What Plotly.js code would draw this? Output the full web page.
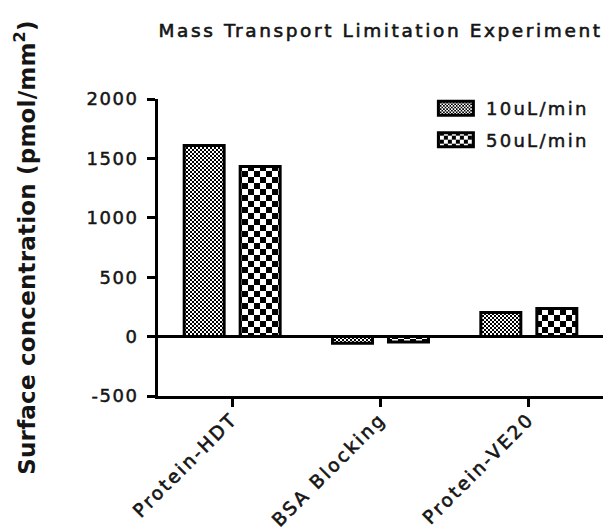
<!DOCTYPE html>
<html>
<head>
<meta charset="utf-8">
<script src="https://cdn.plot.ly/plotly-3.0.1.min.js"></script>
<style>
html,body{margin:0;padding:0;background:#fff;}
#chart{width:603px;height:532px;}
.gtitle{letter-spacing:2.6px;stroke:#151515;stroke-width:0.6px;}
.legendtext{letter-spacing:2.3px;stroke:#151515;stroke-width:0.5px;}
.ytick text{letter-spacing:1.5px;stroke:#151515;stroke-width:0.5px;}
.xtick text{letter-spacing:2.5px;stroke:#151515;stroke-width:0.6px;}
.ytitle{letter-spacing:0.2px;}
</style>
</head>
<body>
<div id="chart"></div>
<script>
const categories = ["Protein-HDT", "BSA Blocking", "Protein-VE20"];
const seriesNames = ["10uL/min", "50uL/min"];
const values10 = [1608, -55, 202];
const values50 = [1431, -45, 236];
const yTicks = [-500, 0, 500, 1000, 1500, 2000];

const font = "DejaVu Sans, sans-serif";
const ink = "#151515";

const traces = [
  {
    type: "bar", name: seriesNames[0], x: categories, y: values10, legendgroup: "a",
    marker: {color: "white", line: {color: "black", width: 3},
      pattern: {shape: ".", fgcolor: "black", bgcolor: "white", size: 4, solidity: 0.5, fillmode: "replace"}}
  },
  {
    type: "bar", name: seriesNames[1], x: categories, y: values50, legendgroup: "b",
    marker: {color: "white", line: {color: "black", width: 3},
      pattern: {shape: ".", fgcolor: "black", bgcolor: "white", size: 12, solidity: 0.5, fillmode: "replace"}}
  }
];

const layout = {
  width: 603, height: 532,
  margin: {l: 158, r: 0, t: 99, b: 136},
  paper_bgcolor: "white", plot_bgcolor: "white",
  font: {family: font, color: ink, size: 18},
  title: {text: "Mass Transport Limitation Experiment", font: {family: font, size: 18.5, color: ink},
          x: 0.5, xref: "paper", xanchor: "center", y: 1 - 31 / 532, yref: "container", yanchor: "middle"},
  barmode: "group", bargap: 0.245, bargroupgap: 0.286,
  showlegend: true,
  legend: {x: 0.602, y: 1.03, xanchor: "left", yanchor: "top", font: {family: font, size: 18, color: ink},
           itemwidth: 50, traceorder: "grouped", tracegroupgap: 5, bgcolor: "rgba(0,0,0,0)"},
  xaxis: {
    type: "category", range: [-0.5, 2.5], showline: true, linecolor: "black", linewidth: 3,
    ticks: "outside", ticklen: 8, tickwidth: 3, tickcolor: "black", tickangle: -45, ticklabelstandoff: -6,
    tickfont: {family: font, size: 18.5, color: ink}, showgrid: false, zeroline: false
  },
  yaxis: {
    range: [-500, 2000], tickvals: yTicks, ticktext: yTicks.map(String), showline: true, linecolor: "black", linewidth: 3,
    ticks: "outside", ticklen: 8, tickwidth: 3, tickcolor: "black", ticklabelstandoff: 5,
    tickfont: {family: font, size: 18, color: ink}, showgrid: false,
    zeroline: true, zerolinecolor: "black", zerolinewidth: 3,
    title: {text: "<b>Surface concentration (pmol/mm<sup>2</sup>)</b>", font: {family: font, size: 23, color: ink}, standoff: 45}
  }
};

Plotly.newPlot("chart", traces, layout, {displayModeBar: false, staticPlot: true}).then(function (gd) {
  const NS = "http://www.w3.org/2000/svg";
  // turn the dot patterns into checkerboards (fine for 10uL/min, coarse for 50uL/min)
  gd.querySelectorAll("pattern").forEach(function (p) {
    const w = parseFloat(p.getAttribute("width"));
    if (!w) return;
    const c = w / 2;
    while (p.firstChild) p.removeChild(p.firstChild);
    const mk = function (x, y, s, fill) {
      const r = document.createElementNS(NS, "rect");
      r.setAttribute("x", x); r.setAttribute("y", y);
      r.setAttribute("width", s); r.setAttribute("height", s);
      r.setAttribute("fill", fill);
      p.appendChild(r);
    };
    mk(0, 0, w, "white");
    mk(0, 0, c, "black");
    mk(c, c, c, "black");
  });
  // wider legend swatches like the reference
  gd.querySelectorAll(".legendpoints path").forEach(function (path) {
    path.setAttribute("d", "M17.5,7H-17.5V-7H17.5Z");
  });
});
</script>
</body>
</html>
